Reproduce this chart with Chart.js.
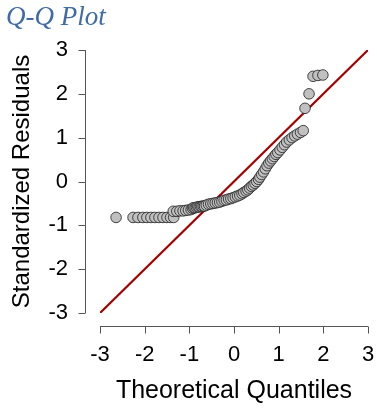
<!DOCTYPE html>
<html>
<head>
<meta charset="utf-8">
<script src="https://cdn.jsdelivr.net/npm/chart.js@4/dist/chart.umd.min.js"></script>
<style>
  html, body { margin: 0; padding: 0; background: #ffffff; }
  #wrap { width: 377px; height: 412px; position: relative; }
</style>
</head>
<body>
<div id="wrap"><canvas id="c"></canvas></div>
<script>
// Theoretical quantiles (x) and standardized residuals (y)
const theoretical = [
  -2.64, -2.26, -2.15, -2.04, -1.95, -1.86, -1.77, -1.68, -1.59, -1.50, -1.42, -1.35,
  -1.36, -1.28, -1.21, -1.14, -1.08, -1.02, -0.96,
  -0.93, -0.90, -0.87, -0.84, -0.81, -0.78, -0.75, -0.72, -0.69, -0.66,
  -0.62, -0.57, -0.52, -0.47, -0.42, -0.37, -0.32, -0.27, -0.22, -0.17, -0.12, -0.07, -0.02,
  0.03, 0.08, 0.13, 0.18, 0.22, 0.27, 0.31, 0.35, 0.39, 0.43, 0.47, 0.51,
  0.55, 0.58, 0.62, 0.66, 0.70, 0.74, 0.78, 0.82, 0.86, 0.90, 0.94, 0.98,
  1.03, 1.08, 1.13, 1.18, 1.24, 1.30, 1.36, 1.42, 1.49, 1.55,
  1.59, 1.68, 1.77, 1.88, 1.99
];
const residuals = [
  -0.82, -0.82, -0.82, -0.82, -0.82, -0.82, -0.82, -0.82, -0.82, -0.82, -0.82, -0.82,
  -0.68, -0.68, -0.67, -0.67, -0.66, -0.65, -0.64,
  -0.61, -0.60, -0.60, -0.59, -0.58, -0.58, -0.57, -0.57, -0.56, -0.56,
  -0.54, -0.52, -0.51, -0.50, -0.49, -0.48, -0.47, -0.45, -0.43, -0.42, -0.40, -0.39, -0.37,
  -0.35, -0.33, -0.31, -0.28, -0.25, -0.22, -0.19, -0.15, -0.11, -0.08, -0.04, 0.00,
  0.05, 0.10, 0.16, 0.22, 0.29, 0.36, 0.42, 0.47, 0.52, 0.57, 0.62, 0.66,
  0.72, 0.78, 0.84, 0.90, 0.95, 1.00, 1.04, 1.08, 1.12, 1.16,
  1.67, 2.00, 2.40, 2.42, 2.43
];
// Reference line endpoints (y = x)
const refLineX = [-3, 3];
const refLineY = [-3, 3];
const tickValues = [-3, -2, -1, 0, 1, 2, 3];

const chartTitle = 'Q-Q Plot';
const xTitle = 'Theoretical Quantiles';
const yTitle = 'Standardized Residuals';

const points = theoretical.map((q, i) => ({ x: q, y: residuals[i] }));
const refLine = refLineX.map((v, i) => ({ x: v, y: refLineY[i] }));

const LEFT_PAD = 6;

// R-style detached axes drawn through the chart's scales
const rAxes = {
  id: 'rAxes',
  afterDraw(chart) {
    const { ctx, chartArea, scales } = chart;
    const xs = scales.x, ys = scales.y;
    ctx.save();
    ctx.strokeStyle = '#555555';
    ctx.lineWidth = 1;
    // y axis
    const ax = Math.round(chartArea.left - 15) + 0.5;
    ctx.beginPath();
    ctx.moveTo(ax, ys.getPixelForValue(tickValues[0]));
    ctx.lineTo(ax, ys.getPixelForValue(tickValues[tickValues.length - 1]));
    tickValues.forEach(v => {
      const p = Math.round(ys.getPixelForValue(v)) + 0.5;
      ctx.moveTo(ax, p);
      ctx.lineTo(ax - 7, p);
    });
    ctx.stroke();
    // x axis
    const ay = Math.round(chartArea.bottom + 13) + 0.5;
    ctx.beginPath();
    ctx.moveTo(xs.getPixelForValue(tickValues[0]), ay);
    ctx.lineTo(xs.getPixelForValue(tickValues[tickValues.length - 1]), ay);
    tickValues.forEach(v => {
      const p = Math.round(xs.getPixelForValue(v)) + 0.5;
      ctx.moveTo(p, ay);
      ctx.lineTo(p, ay + 7);
    });
    ctx.stroke();
    ctx.restore();
  }
};

new Chart(document.getElementById('c'), {
  type: 'scatter',
  data: {
    datasets: [
      {
        label: 'Residuals',
        data: points,
        backgroundColor: '#c0c0c0',
        borderColor: 'rgba(30,30,30,0.8)',
        borderWidth: 1,
        pointRadius: 5.3,
        pointHoverRadius: 5.3,
        order: 0
      },
      {
        label: 'Reference',
        type: 'line',
        data: refLine,
        showLine: true,
        borderColor: '#a50000',
        borderWidth: 2.2,
        pointRadius: 0,
        fill: false,
        order: 1
      }
    ]
  },
  options: {
    responsive: true,
    maintainAspectRatio: false,
    animation: false,
    events: [],
    layout: { padding: { left: LEFT_PAD, right: 9, top: 0, bottom: 0 } },
    plugins: {
      legend: { display: false },
      tooltip: { enabled: false },
      title: {
        display: true,
        text: chartTitle,
        align: 'start',
        color: '#3f6ca6',
        font: { family: 'Liberation Serif', style: 'italic', size: 27, weight: 'normal' },
        padding: { top: 2, bottom: 15.6 }
      }
    },
    scales: {
      x: {
        type: 'linear',
        min: -3, max: 3,
        afterBuildTicks: (s) => { s.ticks = tickValues.map(v => ({ value: v })); },
        afterFit: (s) => { s.height = 99; },
        grid: { display: true, drawOnChartArea: false, drawTicks: true, tickLength: 27, color: 'rgba(0,0,0,0)' },
        border: { display: false },
        ticks: {
          color: '#000000',
          padding: 2,
          maxRotation: 0,
          font: { family: 'Liberation Sans', size: 22 }
        },
        title: {
          display: true,
          text: xTitle,
          color: '#000000',
          font: { family: 'Liberation Sans', size: 25 },
          padding: { top: 0, bottom: 6 }
        }
      },
      y: {
        type: 'linear',
        min: -3, max: 3,
        afterBuildTicks: (s) => { s.ticks = tickValues.map(v => ({ value: v })); },
        afterFit: (s) => { s.width = 100 - LEFT_PAD; },
        grid: { display: true, drawOnChartArea: false, drawTicks: true, tickLength: 30, color: 'rgba(0,0,0,0)' },
        border: { display: false },
        ticks: {
          color: '#000000',
          padding: 2,
          font: { family: 'Liberation Sans', size: 22 }
        },
        title: {
          display: true,
          text: yTitle,
          color: '#000000',
          font: { family: 'Liberation Sans', size: 24 },
          padding: { top: 2, bottom: 0 }
        }
      }
    }
  },
  plugins: [rAxes]
});
</script>
</body>
</html>
